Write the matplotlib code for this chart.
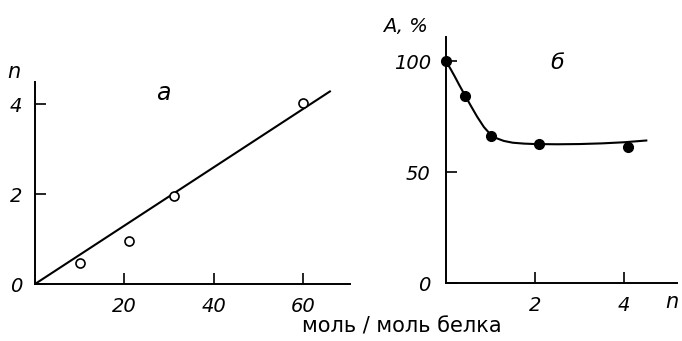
import matplotlib
matplotlib.use("Agg")
import matplotlib.pyplot as plt

# Panel a: n vs mol/mol protein
a_x = [10, 21, 31, 60]
a_y = [0.47, 0.96, 1.95, 4.03]
a_fit_x = [0, 66]
a_fit_y = [0, 4.28]
a_xticks = [20, 40, 60]
a_yticks = [0, 2, 4]

# Panel b: A, % vs n
b_x = [0.0, 0.43, 1.0, 2.1, 4.1]
b_y = [100, 84.5, 66.3, 62.6, 61.3]
b_curve_x = [0.0, 0.1, 0.2, 0.3, 0.43, 0.55, 0.7, 0.85, 1.0, 1.15, 1.3, 1.5, 1.75, 2.0, 2.5, 3.0, 3.5, 4.0, 4.5]
b_curve_y = [100, 96.6, 93.0, 89.2, 84.5, 80.2, 75.0, 70.4, 67.0, 65.2, 64.1, 63.3, 62.9, 62.7, 62.6, 62.7, 63.0, 63.5, 64.3]
b_xticks = [2, 4]
b_yticks = [0, 50, 100]

W, H = 682, 341
fig = plt.figure(figsize=(W / 100, H / 100), dpi=100)

def rect(l, r, b, t):
    return [l / W, 1 - b / H, (r - l) / W, (b - t) / H]

def style(ax):
    for s in ("top", "right"):
        ax.spines[s].set_visible(False)
    for s in ("left", "bottom"):
        ax.spines[s].set_linewidth(1.4)
    ax.tick_params(direction="in", length=8, width=1.2, pad=9)
    for lab in ax.get_xticklabels() + ax.get_yticklabels():
        lab.set_fontstyle("italic")
        lab.set_fontsize(14)

# Left panel
ax1 = fig.add_axes(rect(35, 350, 284, 82))
ax1.plot(a_fit_x, a_fit_y, color="black", lw=1.5)
ax1.plot(a_x, a_y, "o", mfc="white", mec="black", ms=6.5, mew=1.2)
ax1.set_xlim(0, 70.5)
ax1.set_ylim(0, 4.49)
ax1.set_xticks(a_xticks)
ax1.set_yticks(a_yticks)
style(ax1)

# Right panel
ax2 = fig.add_axes(rect(446, 677, 283.3, 37))
ax2.plot(b_curve_x, b_curve_y, color="black", lw=1.5)
ax2.plot(b_x, b_y, "o", color="black", ms=7, clip_on=False)
ax2.set_xlim(0, 5.19)
ax2.set_ylim(0, 110.9)
ax2.set_xticks(b_xticks)
ax2.set_yticks(b_yticks)
style(ax2)
ax2.tick_params(axis="y", pad=11)

def ftext(x, y, s, **kw):
    fig.text(x / W, 1 - y / H, s, ha="center", va="center", **kw)

ftext(14, 72, "n", style="italic", size=15)
ftext(163, 93, "а", style="italic", size=17)
ftext(557, 63, "б", style="italic", size=16)
ftext(405, 27, "A, %", style="italic", size=14)
ftext(672, 302, "n", style="italic", size=15)
ftext(402, 326, "моль / моль белка", size=15)

fig.savefig("out.png", dpi=100)
